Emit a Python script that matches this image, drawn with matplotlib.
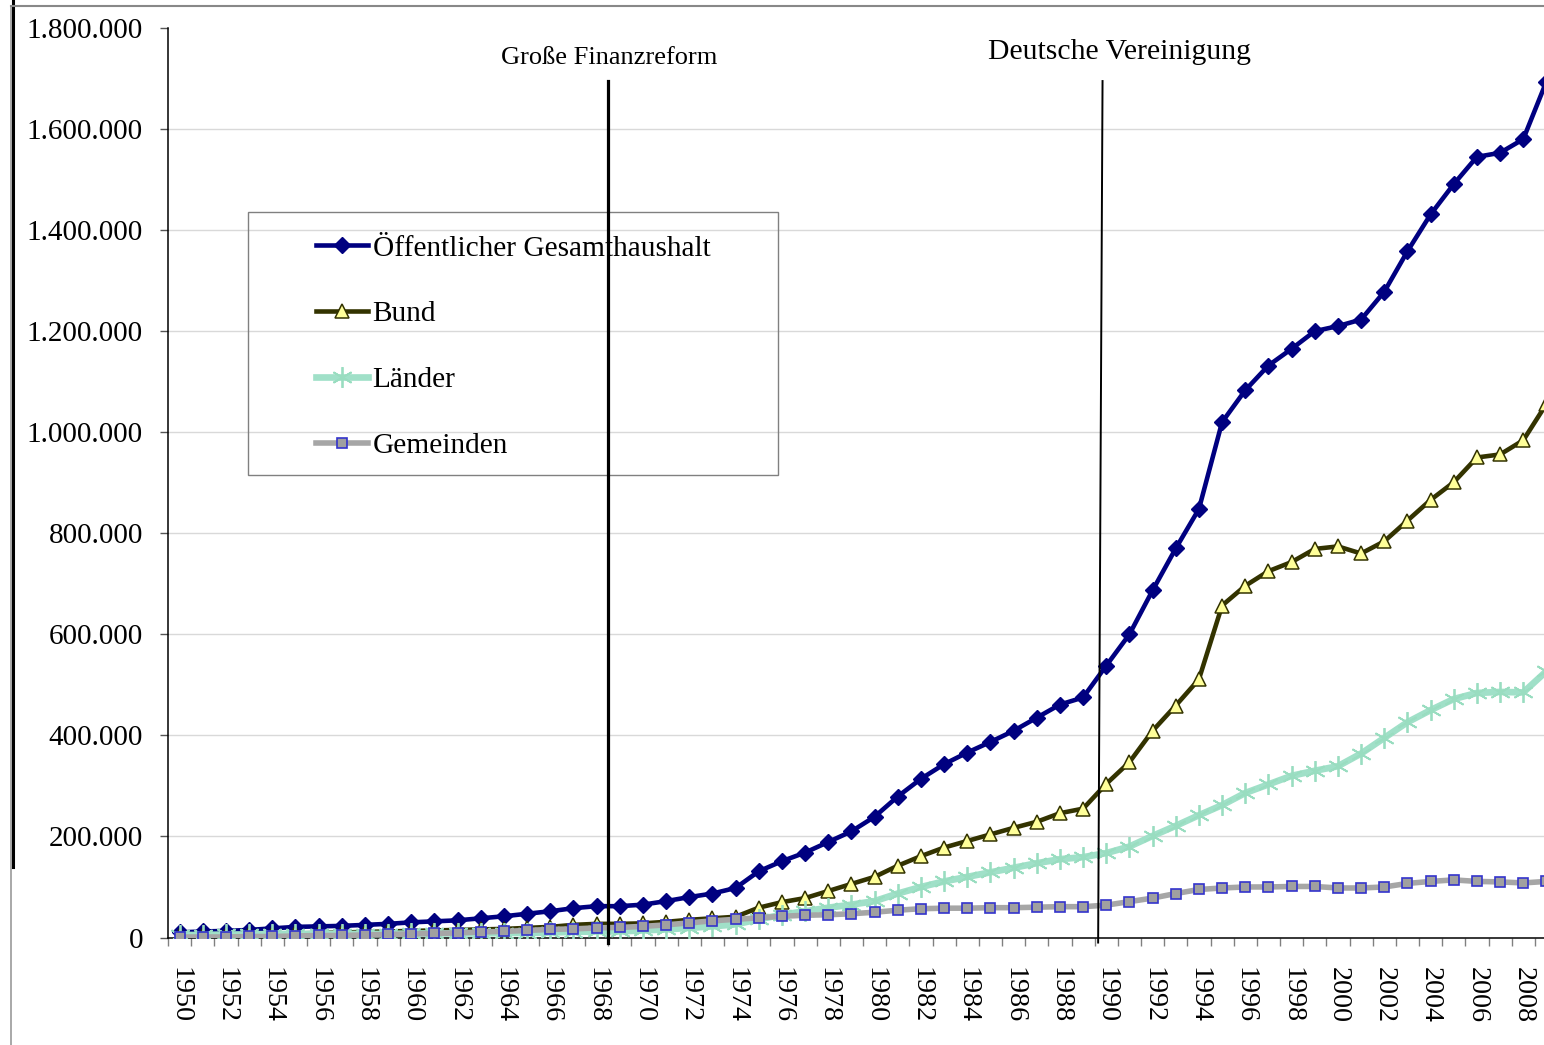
import numpy as np
import matplotlib
matplotlib.use("Agg")
import matplotlib.pyplot as plt
from matplotlib.lines import Line2D
from matplotlib.patches import Rectangle
from matplotlib.ticker import FuncFormatter

plt.rcParams['font.family'] = ['Liberation Serif', 'DejaVu Serif']

years = list(range(1950, 2010))

# Schulden in Mio. Euro
gesamt = [10000, 12000, 13000, 15000, 18000, 21000, 22000, 23000, 25000, 27000,
          30000, 32000, 34000, 38000, 42000, 47000, 52000, 58000, 62000, 62000,
          65000, 72000, 80000, 87000, 98000, 131000, 151000, 168000, 189000, 210000,
          239000, 279000, 314000, 343000, 366000, 387000, 409000, 435000, 461000, 475000,
          538000, 600000, 687000, 770000, 848000, 1020000, 1083000, 1132000, 1165000, 1200000,
          1210000, 1223000, 1278000, 1358000, 1431000, 1491000, 1545000, 1553000, 1580000, 1694000]
bund = [4000, 5000, 5000, 6000, 7000, 8000, 9000, 10000, 11000, 12000,
        13000, 14000, 15000, 16000, 17000, 19000, 21000, 25000, 27000, 27000,
        28000, 31000, 35000, 38000, 41000, 59000, 70000, 78000, 92000, 106000,
        120000, 142000, 161000, 178000, 191000, 204000, 217000, 229000, 246000, 255000,
        304000, 347000, 409000, 459000, 511000, 657000, 696000, 725000, 743000, 769000,
        774000, 760000, 784000, 825000, 866000, 901000, 950000, 956000, 984000, 1056000]
laender = [5000, 5000, 6000, 6000, 7000, 7000, 7000, 7000, 7000, 7000,
           8000, 8000, 8000, 8000, 9000, 9000, 10000, 11000, 12000, 12000,
           14000, 16000, 19000, 22000, 26000, 36000, 45000, 52000, 59000, 65000,
           72000, 87000, 100000, 111000, 120000, 129000, 138000, 147000, 155000, 159000,
           167000, 180000, 201000, 221000, 242000, 262000, 286000, 303000, 320000, 330000,
           339000, 364000, 395000, 426000, 450000, 472000, 484000, 486000, 485000, 527000]
gemeinden = [1000, 1000, 1000, 2000, 2000, 3000, 4000, 4000, 5000, 6000,
             7000, 8000, 9000, 11000, 12000, 14000, 16000, 17000, 19000, 20000,
             22000, 25000, 29000, 33000, 36000, 39000, 42000, 44000, 45000, 47000,
             50000, 54000, 57000, 58000, 58000, 59000, 59000, 60000, 61000, 61000,
             64000, 71000, 78000, 87000, 95000, 98000, 100000, 100000, 101000, 101000,
             98000, 98000, 100000, 107000, 111000, 114000, 111000, 110000, 108000, 111000]

labels = ['Öffentlicher Gesamthaushalt', 'Bund', 'Länder', 'Gemeinden']

W, H = 1544, 1045
fig = plt.figure(figsize=(W / 100, H / 100), dpi=100)
ax = fig.add_axes([168 / W, 1 - 937.5 / H, (1558 - 168) / W, 909.5 / H])

l1, = ax.plot(years, gesamt, color='#000080', lw=3.3, marker='D', ms=8,
              mfc='#000080', mec='#000080', zorder=3)
l2, = ax.plot(years, bund, color='#333300', lw=3.3, marker='^', ms=10.5,
              mfc='#FFFF99', mec='#333300', mew=1.1, zorder=4)
l3, = ax.plot(years, laender, color='#A0E0C8', lw=4.8, marker=(6, 2, 0), ms=15,
              mec='#99DDC0', mew=1.3, zorder=5)
l4, = ax.plot(years, gemeinden, color='#A6A6A6', lw=4.0, marker='s', ms=7,
              mfc='#A0A0A0', mec='#3333CC', mew=1.2, zorder=6)

# Markierungen der Ereignisse
ax.plot([1968.48, 1968.48], [1695000, -11000], color='black', lw=2.3,
        zorder=10, clip_on=False)
ax.plot([1989.84, 1989.65], [1695000, -10000], color='black', lw=1.4,
        zorder=10, clip_on=False)
fig.text(609.5 / W, 1 - 58 / H, 'Große Finanzreform', ha='center', va='center',
         fontsize=19)
fig.text(1120 / W, 1 - 52 / H, 'Deutsche Vereinigung', ha='center', va='center',
         fontsize=21.4)

ax.set_xlim(1949.5, 2009.5)
ax.set_ylim(0, 1800000)

ax.set_xticks(np.arange(1949.5, 2010, 1))
ax.set_xticklabels([])
ax.tick_params(axis='x', which='major', length=6, width=1, color='#808080',
               direction='out')
ax.set_xticks(years[::2], minor=True)
ax.set_xticklabels([str(y) for y in years[::2]], minor=True, rotation=-90,
                   fontsize=20.2)
ax.tick_params(axis='x', which='minor', length=0, pad=21)

ax.set_yticks(np.arange(0, 1800001, 200000))
ax.yaxis.set_major_formatter(FuncFormatter(lambda v, p: f'{v:,.0f}'.replace(',', '.')))
ax.tick_params(axis='y', length=6, width=1, color='#555555', pad=12, labelsize=21)

ax.grid(axis='y', color='#D9D9D9', lw=1)
ax.get_ygridlines()[-1].set_visible(False)
ax.get_ygridlines()[0].set_visible(False)
ax.set_axisbelow(True)

for s in ['top', 'right']:
    ax.spines[s].set_visible(False)
ax.spines['left'].set_linewidth(1.1)
ax.spines['bottom'].set_linewidth(1.1)

# Legende ohne Hintergrund, Rahmen separat
leg = ax.legend([l1, l2, l3, l4], labels, loc='upper left',
                bbox_to_anchor=((316 - 168) / 1390, (937.5 - 235) / 909.5),
                frameon=False, fontsize=21.2, handlelength=1.75,
                handletextpad=0.17, labelspacing=1.33, borderpad=0,
                borderaxespad=0, markerscale=1.0)
ax.add_patch(Rectangle(((248 - 168) / 1390, (937.5 - 475) / 909.5),
                       530 / 1390, 263 / 909.5, transform=ax.transAxes,
                       fill=False, edgecolor='#808080', lw=1, zorder=1))

# äußerer Rahmen
fig.add_artist(Line2D([11 / W, 11 / W], [0, 1 - 6 / H], color='#999999', lw=1.2))
fig.add_artist(Line2D([13 / W, 13 / W], [1 - 867 / H, 1], color='black', lw=2.2))
fig.add_artist(Line2D([11 / W, 1], [1 - 6 / H, 1 - 6 / H], color='#888888', lw=1.5))

fig.savefig('out.png', dpi=100)
